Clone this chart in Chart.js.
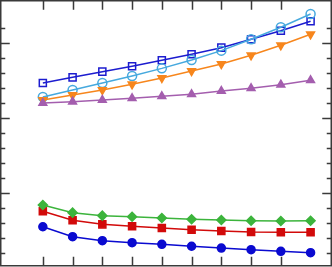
<!DOCTYPE html>
<html>
<head>
<meta charset="utf-8">
<script src="https://cdn.jsdelivr.net/npm/chart.js@4/dist/chart.umd.min.js"></script>
<style>
  html, body { margin: 0; padding: 0; background: #fff; }
  #wrap { width: 332px; height: 267px; position: relative; }
</style>
</head>
<body>
<div id="wrap"><canvas id="chart"></canvas></div>
<script>
// x positions (one per tick)
const xVals = [1, 2, 3, 4, 5, 6, 7, 8, 9, 10];

// upper group
const blueSquares = [12.33, 12.71, 13.09, 13.45, 13.85, 14.25, 14.69, 15.25, 15.82, 16.45];
const cyanCircles = [11.40, 11.87, 12.33, 12.80, 13.31, 13.87, 14.49, 15.25, 16.05, 16.93];
const orangeDown = [11.20, 11.53, 11.87, 12.25, 12.67, 13.13, 13.60, 14.18, 14.85, 15.58];
const purpleUp = [11.00, 11.09, 11.20, 11.31, 11.45, 11.58, 11.80, 11.98, 12.22, 12.51];

// lower group
const greenDiamonds = [4.20, 3.69, 3.49, 3.42, 3.33, 3.25, 3.20, 3.15, 3.13, 3.15];
const redSquares = [3.78, 3.18, 2.91, 2.78, 2.67, 2.55, 2.47, 2.40, 2.38, 2.38];
const blueDots = [2.75, 2.09, 1.82, 1.69, 1.58, 1.45, 1.33, 1.22, 1.11, 1.02];

const pts = (arr) => arr.map((v, i) => ({ x: xVals[i], y: v }));

function series(data, color, style, radius, filled, rotation) {
    return {
        data: pts(data),
        borderColor: color,
        backgroundColor: filled ? color : 'rgba(0,0,0,0)',
        pointBorderColor: color,
        pointBackgroundColor: filled ? color : 'rgba(0,0,0,0)',
        pointStyle: style,
        pointRadius: radius,
        pointRotation: rotation || 0,
        pointBorderWidth: 1.5,
        borderWidth: 1.5,
        tension: 0,
        fill: false
    };
}

// frame with inward ticks, drawn from the scales
const frame = {
    id: 'frame',
    afterDraw(chart) {
        const { ctx, scales } = chart;
        const left = 0.75, right = 331.25, top = 0.75, bottom = 265.75;
        ctx.save();
        ctx.strokeStyle = '#3a3a3a';
        ctx.lineWidth = 1.5;
        ctx.strokeRect(left, top, right - left, bottom - top);
        ctx.beginPath();
        scales.x.ticks.forEach(t => {
            if (!Number.isInteger(t.value) || t.value < 1) return;
            const px = Math.round(scales.x.getPixelForValue(t.value)) + 0.5;
            ctx.moveTo(px, top); ctx.lineTo(px, top + 9);
            ctx.moveTo(px, bottom); ctx.lineTo(px, bottom - 9);
        });
        scales.y.ticks.forEach(t => {
            if (!Number.isInteger(t.value)) return;
            const py = Math.round(scales.y.getPixelForValue(t.value)) + 0.5;
            const len = t.value % 5 === 0 ? 9 : 4.5;
            ctx.moveTo(left, py); ctx.lineTo(left + len, py);
            ctx.moveTo(right, py); ctx.lineTo(right - len, py);
        });
        ctx.stroke();
        ctx.restore();
    }
};

new Chart(document.getElementById('chart'), {
    type: 'line',
    data: {
        datasets: [
            series(purpleUp, '#a45eae', 'triangle', 4.5, true),
            series(orangeDown, '#f7861c', 'triangle', 4.5, true, 180),
            series(cyanCircles, '#46a9de', 'circle', 4.5, false),
            series(blueSquares, '#1c1ccf', 'rect', 5, false),
            series(greenDiamonds, '#3cb43c', 'rectRot', 4.5, true),
            series(redSquares, '#d20a0a', 'rect', 5, true),
            series(blueDots, '#0a0ad0', 'circle', 4, true)
        ]
    },
    options: {
        responsive: true,
        maintainAspectRatio: false,
        animation: false,
        layout: { padding: 0, autoPadding: false },
        plugins: {
            legend: { display: false },
            tooltip: { enabled: false }
        },
        scales: {
            x: {
                type: 'linear',
                display: false,
                min: -0.44,
                max: 10.72,
                ticks: { stepSize: 1, maxTicksLimit: 100, autoSkip: false }
            },
            y: {
                type: 'linear',
                display: false,
                min: 0.067,
                max: 17.867,
                ticks: { stepSize: 1, maxTicksLimit: 100, autoSkip: false }
            }
        }
    },
    plugins: [frame]
});
</script>
</body>
</html>
